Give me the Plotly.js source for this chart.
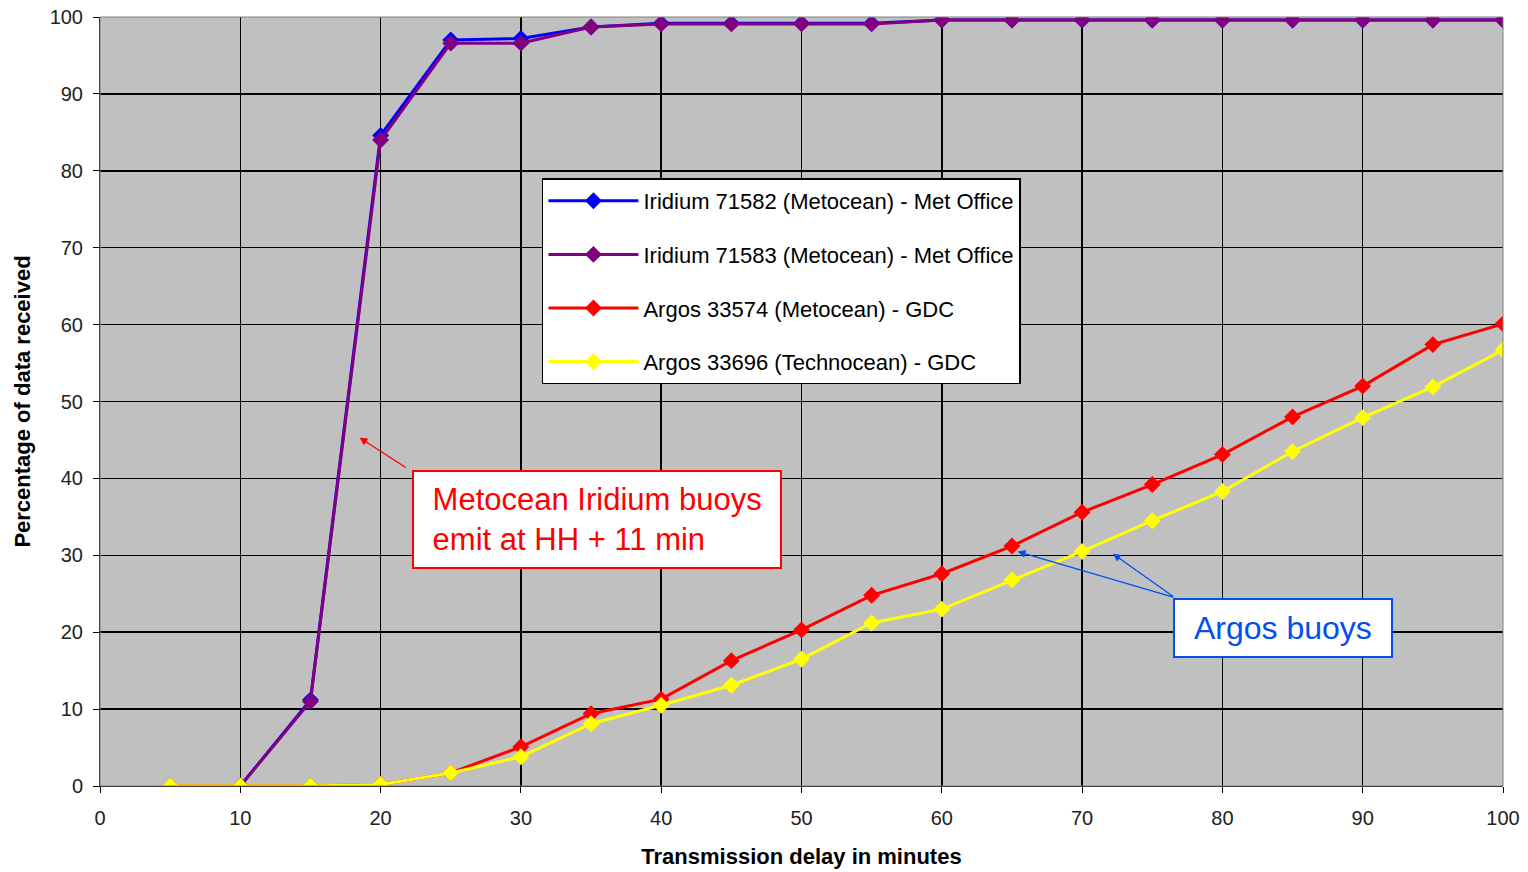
<!DOCTYPE html>
<html>
<head>
<meta charset="utf-8">
<script src="https://cdn.plot.ly/plotly-3.0.1.min.js"></script>
<style>html,body{margin:0;padding:0;background:#fff;}#chart{width:1528px;height:872px;}</style>
</head>
<body>
<div id="chart"></div>
<script>
const delays = [5,10,15,20,25,30,35,40,45,50,55,60,65,70,75,80,85,90,95,100];
const iridiumDelays = [10,15,20,25,30,35,40,45,50,55,60,65,70,75,80,85,90,95,100];
const iridium71582 = [0,11.2,84.6,97.0,97.2,98.7,99.2,99.2,99.2,99.2,99.6,99.6,99.6,99.6,99.6,99.6,99.6,99.6,99.6];
const iridium71583 = [0,11.0,84.0,96.6,96.6,98.7,99.1,99.1,99.1,99.1,99.6,99.6,99.6,99.6,99.6,99.6,99.6,99.6,99.6];
const argos33574 = [0,0,0,0.2,1.7,5.1,9.4,11.3,16.3,20.3,24.8,27.6,31.2,35.6,39.2,43.1,48.0,52.0,57.4,60.1];
const argos33696 = [0,0,0,0.2,1.7,3.8,8.1,10.5,13.1,16.5,21.2,23.0,26.8,30.5,34.5,38.3,43.5,47.9,51.9,56.7];
const seriesNames = ["Iridium 71582 (Metocean) - Met Office","Iridium 71583 (Metocean) - Met Office","Argos 33574 (Metocean) - GDC","Argos 33696 (Technocean) - GDC"];
const xTicks = [0,10,20,30,40,50,60,70,80,90,100];
const yTicks = [0,10,20,30,40,50,60,70,80,90,100];

function tr(x, y, name, color, width, group) {
  return {x: x, y: y, name: name, type: 'scatter', mode: 'lines+markers',
    line: {color: color, width: width},
    marker: {symbol: 'diamond', size: 13, color: color},
    legendgroup: group};
}
const data = [
  tr(iridiumDelays, iridium71582, seriesNames[0], '#0000FF', 3, 'a'),
  tr(iridiumDelays, iridium71583, seriesNames[1], '#800080', 3, 'b'),
  tr(delays, argos33574, seriesNames[2], '#FF0000', 3, 'c'),
  tr(delays, argos33696, seriesNames[3], '#FFFF00', 3, 'd')
];

const tickFont = {family: 'Liberation Sans, Arial, sans-serif', size: 20, color: '#222'};
const titleFont = {family: 'Liberation Sans Narrow, Arial Narrow, Liberation Sans, sans-serif', size: 22, color: '#000'};
const layout = {
  width: 1528, height: 872,
  margin: {l: 100, r: 25, t: 17, b: 86},
  paper_bgcolor: '#ffffff',
  plot_bgcolor: '#C0C0C0',
  showlegend: true,
  legend: {
    x: 0.315, y: 0.79, xanchor: 'left', yanchor: 'top',
    bgcolor: '#ffffff', bordercolor: '#000000', borderwidth: 1.5,
    font: {family: 'Liberation Sans, Arial, sans-serif', size: 22, color: '#000'},
    traceorder: 'grouped', tracegroupgap: 22, itemwidth: 90
  },
  xaxis: {
    range: [0, 100], tickvals: xTicks, ticktext: xTicks.map(String),
    showgrid: true, gridcolor: '#000000', gridwidth: 1.5,
    zeroline: false, ticks: 'outside', ticklen: 6, tickcolor: '#000',
    showline: true, linecolor: '#000', linewidth: 1,
    tickfont: tickFont, ticklabelstandoff: 8,
    title: {text: '<b>Transmission delay in minutes</b>', font: titleFont, standoff: 20}
  },
  yaxis: {
    range: [0, 100], tickvals: yTicks, ticktext: yTicks.map(String),
    showgrid: true, gridcolor: '#000000', gridwidth: 1.5,
    zeroline: false, ticks: 'outside', ticklen: 6, tickcolor: '#000',
    showline: true, linecolor: '#000', linewidth: 1,
    tickfont: tickFont, ticklabelstandoff: 6,
    title: {text: '<b>Percentage of data received</b>', font: titleFont, standoff: 12}
  },
  shapes: [
    {type: 'rect', xref: 'paper', yref: 'paper', x0: 0, x1: 1, y0: 0, y1: 1, line: {color: '#808080', width: 1}, fillcolor: 'rgba(0,0,0,0)'}
  ],
  annotations: [
    {xref: 'x', yref: 'y', x: 35.4, y: 34.7, text: '&nbsp;Metocean Iridium buoys&nbsp;<br>&nbsp;emit at HH + 11 min',
     showarrow: false, align: 'left', bgcolor: '#ffffff', bordercolor: '#FF0000', borderwidth: 2, borderpad: 10,
     font: {family: 'Liberation Sans, Arial, sans-serif', size: 31, color: '#FF0000'}},
    {xref: 'x', yref: 'y', x: 18.5, y: 45.3, axref: 'x', ayref: 'y', ax: 21.9, ay: 41.3, text: '',
     showarrow: true, arrowhead: 2, arrowsize: 1.2, arrowwidth: 1.3, arrowcolor: '#FF0000'},
    {xref: 'x', yref: 'y', x: 84.35, y: 20.6, text: '&nbsp;Argos buoys&nbsp;',
     showarrow: false, bgcolor: '#ffffff', bordercolor: '#0050F0', borderwidth: 2, borderpad: 10,
     font: {family: 'Liberation Sans, Arial, sans-serif', size: 32, color: '#0050F0'}},
    {xref: 'x', yref: 'y', x: 65.4, y: 30.5, axref: 'x', ayref: 'y', ax: 76.6, ay: 24.5, text: '',
     showarrow: true, arrowhead: 2, arrowsize: 1.2, arrowwidth: 1.3, arrowcolor: '#0050F0'},
    {xref: 'x', yref: 'y', x: 72.2, y: 30.2, axref: 'x', ayref: 'y', ax: 76.6, ay: 24.5, text: '',
     showarrow: true, arrowhead: 2, arrowsize: 1.2, arrowwidth: 1.3, arrowcolor: '#0050F0'}
  ]
};
Plotly.newPlot('chart', data, layout, {displayModeBar: false, staticPlot: true});
</script>
</body>
</html>
